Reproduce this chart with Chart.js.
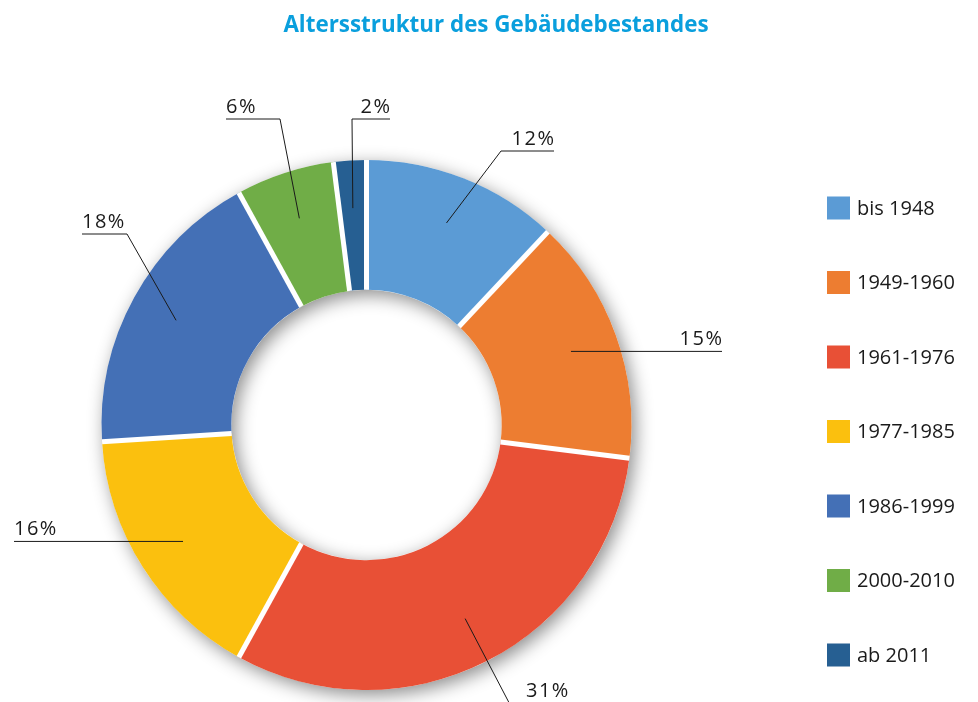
<!DOCTYPE html>
<html>
<head>
<meta charset="utf-8">
<script src="https://cdn.jsdelivr.net/npm/chart.js@4"></script>
<style>
  html, body { margin: 0; padding: 0; background: #fff; }
  #wrap { position: relative; width: 978px; height: 702px; }
  #chart { position: absolute; left: 0; top: 0; }
  #title {
    position: absolute; left: 7px; top: 8px; width: 978px;
    text-align: center; font: bold 22.4px "Open Sans"; color: #0a9fdd;
  }
</style>
</head>
<body>
<div id="wrap">
  <canvas id="chart" width="978" height="702"></canvas>
  <div id="title">Altersstruktur des Gebäudebestandes</div>
</div>
<script>
const categories = ['bis 1948', '1949-1960', '1961-1976', '1977-1985', '1986-1999', '2000-2010', 'ab 2011'];
const shares = [12, 15, 31, 16, 18, 6, 2];
const colors = ['#5b9bd5', '#ed7d31', '#e85036', '#fbc00e', '#4470b6', '#70ad47', '#265f92'];

// where each percent label sits, in px from the ring centre
// knee: bend of the leader line (null = straight from the ring), shelf: x end of the underline
const labelLayout = [
  { knee: [134.5, -274], shelf: 187.5 },
  { knee: null, shelf: 355.5 },
  { knee: [150, 292], shelf: null, text: [159.5, 272] },
  { knee: null, shelf: -352.5 },
  { knee: [-239.5, -191], shelf: -284.5 },
  { knee: [-86.5, -306], shelf: -140.5 },
  { knee: [-14.5, -306], shelf: 23.5 }
];

const ringShadow = {
  id: 'ringShadow',
  beforeDatasetsDraw(chart) {
    const arc = chart.getDatasetMeta(0).data[0];
    if (!arc) return;
    const { x, y, innerRadius, outerRadius } = arc;
    const ctx = chart.ctx;
    ctx.save();
    ctx.shadowColor = 'rgba(0,0,0,0.45)';
    ctx.shadowBlur = 18;
    ctx.shadowOffsetX = 4;
    ctx.shadowOffsetY = 5;
    ctx.fillStyle = '#fff';
    ctx.beginPath();
    ctx.arc(x, y, outerRadius, 0, Math.PI * 2);
    ctx.arc(x, y, innerRadius, 0, Math.PI * 2, true);
    ctx.fill();
    ctx.restore();
  }
};

const gapsAndLabels = {
  id: 'gapsAndLabels',
  afterDatasetsDraw(chart) {
    const ctx = chart.ctx;
    const arcs = chart.getDatasetMeta(0).data;
    const vals = chart.data.datasets[0].data;
    const total = vals.reduce((a, b) => a + b, 0);

    // white separators between the slices
    ctx.save();
    ctx.strokeStyle = '#fff';
    ctx.lineWidth = 5;
    arcs.forEach(el => {
      const a = el.startAngle;
      ctx.beginPath();
      ctx.moveTo(el.x + Math.cos(a) * el.innerRadius, el.y + Math.sin(a) * el.innerRadius);
      ctx.lineTo(el.x + Math.cos(a) * el.outerRadius, el.y + Math.sin(a) * el.outerRadius);
      ctx.stroke();
    });
    ctx.restore();

    // percent labels with leader lines
    ctx.save();
    ctx.strokeStyle = '#1a1a1a';
    ctx.fillStyle = '#1a1a1a';
    ctx.lineWidth = 1;
    ctx.font = '20px "Open Sans"';
    ctx.letterSpacing = '1.5px';
    arcs.forEach((el, i) => {
      const L = labelLayout[i];
      const mid = (el.startAngle + el.endAngle) / 2;
      const r = el.outerRadius * 0.82;
      const ax = el.x + Math.cos(mid) * r;
      const ay = el.y + Math.sin(mid) * r;
      const kx = L.knee ? el.x + L.knee[0] : ax;
      const ky = L.knee ? el.y + L.knee[1] : ay;
      const txt = Math.round(vals[i] / total * 100) + '%';
      ctx.beginPath();
      ctx.moveTo(ax, ay);
      ctx.lineTo(kx, ky);
      if (L.shelf !== null) ctx.lineTo(el.x + L.shelf, ky);
      ctx.stroke();
      ctx.textBaseline = 'alphabetic';
      if (L.shelf !== null) {
        const sx = el.x + L.shelf;
        ctx.textAlign = sx < kx ? 'left' : 'right';
        ctx.fillText(txt, sx < kx ? sx : sx + 1.5, ky - 6);
      } else {
        ctx.textAlign = 'left';
        ctx.fillText(txt, el.x + L.text[0], el.y + L.text[1]);
      }
    });
    ctx.restore();
  },
  afterDraw(chart) {
    // legend column on the right
    const ctx = chart.ctx;
    const ds = chart.data.datasets[0];
    ctx.save();
    ctx.font = '20px "Open Sans"';
    ctx.textBaseline = 'middle';
    ctx.textAlign = 'left';
    chart.data.labels.forEach((lab, i) => {
      const cy = 208 + i * 74.5;
      ctx.fillStyle = ds.backgroundColor[i];
      ctx.fillRect(827, cy - 11.5, 23, 23);
      ctx.fillStyle = '#1a1a1a';
      ctx.fillText(lab, 857, cy + 1);
    });
    ctx.restore();
  }
};

new Chart(document.getElementById('chart'), {
  type: 'doughnut',
  data: {
    labels: categories,
    datasets: [{ data: shares, backgroundColor: colors, borderWidth: 0 }]
  },
  options: {
    responsive: false,
    animation: false,
    cutout: '51%',
    layout: { padding: { top: 160, bottom: 12, left: 101, right: 346 } },
    plugins: { legend: { display: false }, tooltip: { enabled: false } }
  },
  plugins: [ringShadow, gapsAndLabels]
});
</script>
</body>
</html>
